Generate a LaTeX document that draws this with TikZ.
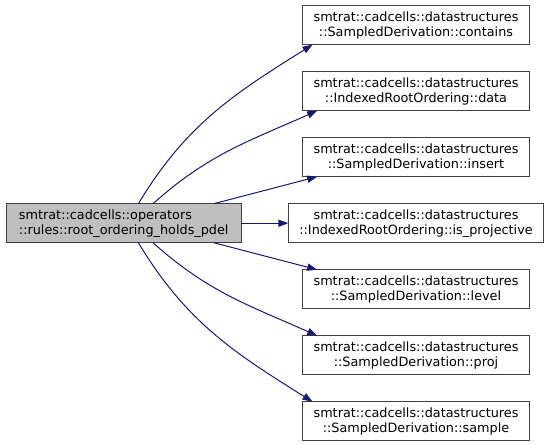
\documentclass[tikz,border=0pt]{standalone}
\usepackage{fontspec}
\setmainfont{DejaVu Sans}
\usepackage{xcolor}
\usetikzlibrary{positioning,arrows.meta,calc}
\definecolor{edgeblue}{HTML}{191970}
\definecolor{boxline}{HTML}{404040}
\definecolor{mainfill}{HTML}{BFBFBF}

\begin{document}
\begin{tikzpicture}[
    node distance=20.25pt and 35.25pt,
    every node/.style={font=\fontsize{9.6}{11.25}\selectfont,align=center,outer sep=0pt,
                       minimum height=29.25pt,inner xsep=8.3pt,inner ysep=2pt},
    fbox/.style={rectangle,draw=boxline,fill=white,line width=0.75pt},
    mainbox/.style={rectangle,draw=boxline,fill=mainfill,line width=0.75pt,
                    align=left,inner xsep=9.6pt},
    arrow/.style={-{Triangle[length=7.5pt,width=5.4pt]},line width=0.75pt,draw=edgeblue},
]
    \useasboundingbox (0,0) rectangle (414pt,-333pt);
    \node[fbox] (contains) at (312pt,-18.9pt) {smtrat::cadcells::datastructures\\::SampledDerivation::contains};
    \node[fbox,below=of contains] (data)   {smtrat::cadcells::datastructures\\::IndexedRootOrdering::data};
    \node[fbox,below=of data]     (insert) {smtrat::cadcells::datastructures\\::SampledDerivation::insert};
    \node[fbox,below=of insert]   (isproj) {smtrat::cadcells::datastructures\\::IndexedRootOrdering::is\_projective};
    \node[fbox,below=of isproj]   (level)  {smtrat::cadcells::datastructures\\::SampledDerivation::level};
    \node[fbox,below=of level]    (proj)   {smtrat::cadcells::datastructures\\::SampledDerivation::proj};
    \node[fbox,below=of proj]     (sample) {smtrat::cadcells::datastructures\\::SampledDerivation::sample};
    \node[mainbox,left=of isproj] (rule)   {smtrat::cadcells::operators\\::rules::root\_ordering\_holds\_pdel};

    \draw[arrow] ($(rule.north)+(11pt,0)$) to[out=59,in=212] ($(contains.south west)+(7.5pt,0)$);
    \draw[arrow] ($(rule.north)+(22pt,0)$) to[out=42,in=204] ($(data.south west)+(11pt,0)$);
    \draw[arrow] ($(rule.north)+(67.5pt,0)$) -- ($(insert.south west)+(11pt,0)$);
    \draw[arrow] (rule) -- (isproj);
    \draw[arrow] ($(rule.south)+(67.5pt,0)$) -- ($(level.north west)+(11pt,0)$);
    \draw[arrow] ($(rule.south)+(22pt,0)$) to[out=-42,in=156] ($(proj.north west)+(11pt,0)$);
    \draw[arrow] ($(rule.south)+(11pt,0)$) to[out=-59,in=148] ($(sample.north west)+(7.5pt,0)$);
\end{tikzpicture}
\end{document}
